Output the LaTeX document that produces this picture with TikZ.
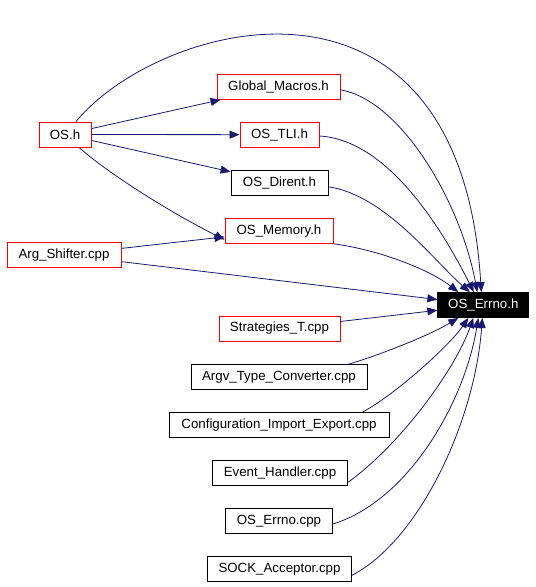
\documentclass[tikz,border=0pt]{standalone}
\usepackage{fontspec}
\setmainfont{Liberation Sans}
\usetikzlibrary{arrows.meta}
\definecolor{edgeblue}{RGB}{25,25,112}
\tikzset{
  box/.style={draw, line width=0.9pt, rectangle, minimum height=25pt, inner sep=0pt,
    font=\fontsize{13.3}{16}\selectfont, fill=white},
  redbox/.style={box, draw=red},
  blackbox/.style={box, draw=black},
  mainbox/.style={box, draw=black, fill=black, text=white},
  edge/.style={draw=edgeblue, line width=0.8pt,
    -{Triangle[length=10pt,width=8pt]}, edgeblue},
}
\begin{document}
\begin{tikzpicture}[x=1pt,y=-1pt]
\useasboundingbox (0,0) rectangle (536,587);
\node[redbox, minimum width=52pt] (osh) at (65,134.5) {OS.h};
\node[redbox, minimum width=123pt] (gm) at (278.5,86.8) {Global\_Macros.h};
\node[redbox, minimum width=79pt] (tli) at (279.5,134.7) {OS\_TLI.h};
\node[blackbox, minimum width=97pt] (dirent) at (279.5,182.8) {OS\_Dirent.h};
\node[redbox, minimum width=108pt] (mem) at (279,230.8) {OS\_Memory.h};
\node[redbox, minimum width=114pt] (args) at (64,254.8) {Arg\_Shifter.cpp};
\node[mainbox, minimum width=91pt] (errno) at (483.3,305) {OS\_Errno.h};
\node[redbox, minimum width=121pt] (strat) at (279.5,328.5) {Strategies\_T.cpp};
\node[blackbox, minimum width=176pt] (argv) at (279,377.3) {Argv\_Type\_Converter.cpp};
\node[blackbox, minimum width=220pt] (conf) at (279,425.3) {Configuration\_Import\_Export.cpp};
\node[blackbox, minimum width=135pt] (event) at (280,473.3) {Event\_Handler.cpp};
\node[blackbox, minimum width=107pt] (errcpp) at (279,521) {OS\_Errno.cpp};
\node[blackbox, minimum width=144pt] (sock) at (279.5,569.3) {SOCK\_Acceptor.cpp};

% edges from OS.h
\draw[edge] ([xshift=11pt]osh.north) .. controls (160,20) and (460,-60) .. ([xshift=-2pt]errno.north);
\draw[edge] (osh) -- (gm);
\draw[edge] (osh) -- (tli);
\draw[edge] (osh) -- (dirent);
\draw[edge] ([xshift=14pt]osh.south) .. controls (110,175) and (175,215) .. ([yshift=-8.8pt]mem.west);
% Arg_Shifter
\draw[edge] (args) -- (mem);
\draw[edge] (args) -- (errno);
% upper to errno
\draw[edge] ([yshift=-3pt]gm.east) .. controls (400,100) and (460,200) .. ([xshift=-6pt]errno.north);
\draw[edge] ([yshift=-1.3pt]tli.east) .. controls (390,140) and (445,235) .. ([xshift=-9.5pt]errno.north);
\draw[edge] ([yshift=-4pt]dirent.east) .. controls (385,195) and (435,262) .. ([xshift=-13.5pt]errno.north);
\draw[edge] (mem.south east) .. controls (380,250) and (430,270) .. ([xshift=-25pt]errno.north);
\draw[edge] (strat) -- (errno);
% lower to errno
\draw[edge] ([xshift=69pt]argv.north) .. controls (380,355) and (430,335) .. ([xshift=-25pt]errno.south);
\draw[edge] ([xshift=83pt]conf.north) .. controls (395,395) and (450,345) .. ([xshift=-15pt]errno.south);
\draw[edge] ([yshift=-9pt]event.east) .. controls (400,445) and (455,370) .. ([xshift=-10pt]errno.south);
\draw[edge] ([yshift=-3pt]errcpp.east) .. controls (410,500) and (465,400) .. ([xshift=-5pt]errno.south);
\draw[edge] ([yshift=-6pt]sock.east) .. controls (420,540) and (475,420) .. ([xshift=-1pt]errno.south);
\end{tikzpicture}
\end{document}
